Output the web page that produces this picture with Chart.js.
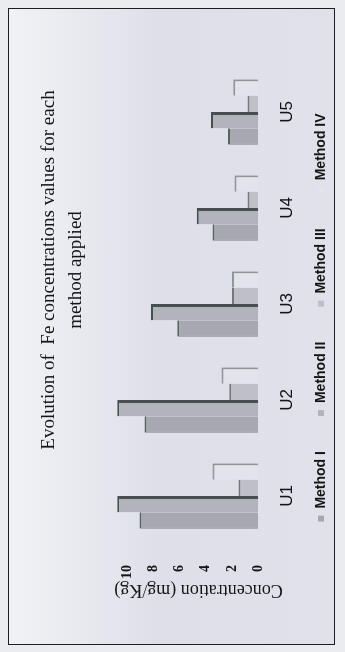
<!DOCTYPE html>
<html>
<head>
<meta charset="utf-8">
<script src="https://cdn.jsdelivr.net/npm/chart.js@4"></script>
<style>
  html, body { margin: 0; padding: 0; width: 345px; height: 652px; overflow: hidden; background: #ebecef; }
  #page {
    position: absolute; left: 0; top: 0; width: 652px; height: 345px;
    transform-origin: 0 0; transform: translate(0, 652px) rotate(-90deg);
  }
  #frame {
    position: absolute; left: 7px; top: 8px; width: 635px; height: 325px;
    border: 1px solid #1e1e1e;
    background: linear-gradient(to bottom, #f1f2f5 0%, #e6e7ee 28%, #dedfe9 45%, #e0e1ea 100%);
  }
  #title {
    position: absolute; left: 174px; top: 25px; width: 400px;
    text-align: center; font: 19px "Liberation Serif", serif; line-height: 27px; color: #151515;
  }
  #chart { position: absolute; left: 0; top: 0; }
</style>
</head>
<body>
<div id="page">
  <div id="frame">
    <canvas id="chart" width="635" height="325"></canvas>
    <div id="title">Evolution of &nbsp;Fe concentrations values for each<br>method applied</div>
  </div>
</div>
<script>
const categories = ['U1', 'U2', 'U3', 'U4', 'U5'];
const seriesNames = ['Method I', 'Method II', 'Method III', 'Method IV'];
const methodI = [9.1, 8.7, 6.2, 3.5, 2.3];
const methodII = [10.8, 10.8, 8.2, 4.7, 3.6];
const methodIII = [1.5, 2.2, 2.0, 0.8, 0.8];
const methodIV = [3.5, 2.8, 2.0, 1.8, 1.9];
const yTicks = [0, 2, 4, 6, 8, 10];

const serif = '"Liberation Serif", "DejaVu Serif", serif';
const narrow = '"Liberation Sans Narrow", "Liberation Sans", sans-serif';

const ctx = document.getElementById('chart').getContext('2d');
new Chart(ctx, {
    type: 'bar',
    data: {
        labels: categories,
        datasets: [
            { label: seriesNames[0], data: methodI, backgroundColor: '#a8a8b1', borderColor: '#5a6463',
              borderWidth: { top: 2, left: 1, right: 0, bottom: 0 } },
            { label: seriesNames[1], data: methodII, backgroundColor: '#b3b3bc', borderColor: '#45504f',
              borderWidth: { top: 2, left: 0, right: 3, bottom: 0 } },
            { label: seriesNames[2], data: methodIII, backgroundColor: '#bfbfc7', borderColor: '#737978',
              borderWidth: { top: 2, left: 0, right: 0, bottom: 0 } },
            { label: seriesNames[3], data: methodIV, backgroundColor: '#e3e4eb', borderColor: '#90959a',
              borderWidth: { top: 2, left: 0, right: 2, bottom: 0 } }
        ]
    },
    options: {
        responsive: false,
        animation: false,
        layout: { padding: { top: 103, right: 25, left: 43, bottom: 0 } },
        datasets: { bar: { categoryPercentage: 0.68, barPercentage: 1.0 } },
        plugins: {
            title: { display: false },
            tooltip: { enabled: false },
            legend: {
                position: 'bottom',
                maxHeight: 20,
                labels: {
                    font: { family: narrow, size: 14, weight: 'bold' },
                    color: '#151515',
                    boxWidth: 6,
                    boxHeight: 6,
                    padding: 0,
                    generateLabels(chart) {
                        const items = Chart.defaults.plugins.legend.labels.generateLabels(chart);
                        items.forEach((it, i) => {
                            it.lineWidth = 0;
                            if (i < items.length - 1) it.text = it.text + '\u2003\u2003\u2002';
                        });
                        return items;
                    }
                }
            }
        },
        scales: {
            x: {
                grid: { display: false },
                border: { display: false },
                ticks: { font: { family: narrow, size: 17 }, color: '#151515', padding: 11 },
                afterFit(scale) { scale.height = 56; }
            },
            y: {
                min: 0,
                max: 11.2,
                afterBuildTicks(scale) { scale.ticks = yTicks.map(v => ({ value: v })); },
                grid: { display: false },
                border: { display: false },
                ticks: { font: { family: serif, size: 14, weight: 'bold' }, color: '#151515', padding: 13 },
                title: {
                    display: true,
                    text: 'Concentration (mg/Kg)\u2003\u2002',
                    font: { family: serif, size: 18 },
                    color: '#151515',
                    padding: 0
                },
                afterFit(scale) { scale.width = 57; }
            },
            // empty right-hand spacer so the legend sits where it does in the original
            spacer: {
                position: 'right',
                grid: { display: false },
                border: { display: false },
                ticks: { display: false },
                afterFit(scale) { scale.width = 30; }
            }
        }
    }
});
</script>
</body>
</html>
